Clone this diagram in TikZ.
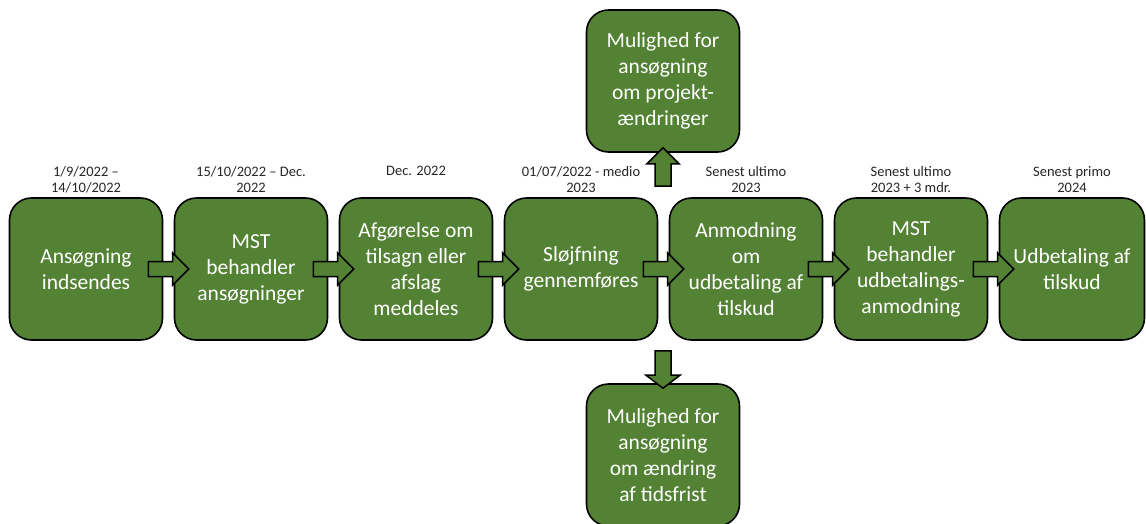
\documentclass[tikz,border=0pt]{standalone}
\usepackage{fontspec}
\setmainfont{Carlito}
\usetikzlibrary{calc}
\definecolor{stepgreen}{RGB}{84,130,53}

% horizontal block arrow from one box to the next
\newcommand\harrow[2]{%
  \filldraw[arrowfill] ($(#1.east)+(-15,7.5)$) -- ($(#2.west)+(-1,7.5)$)
    -- ($(#2.west)+(-1,16)$) -- ($(#2.west)+(15,0)$) -- ($(#2.west)+(-1,-16)$)
    -- ($(#2.west)+(-1,-7.5)$) -- ($(#1.east)+(-15,-7.5)$) -- cycle;}

\begin{document}
\begin{tikzpicture}[x=1pt,y=1pt,
  stepbox/.style={draw=black, line width=1.6pt, fill=stepgreen, rounded corners=22pt,
    minimum width=153pt, minimum height=142pt, text=white, align=center,
    font=\fontsize{21.5}{26}\selectfont, inner sep=2pt},
  datelabel/.style={anchor=north, align=center, text=black!85,
    font=\fontsize{14.5}{16.5}\selectfont, inner sep=0pt},
  arrowfill/.style={draw=black, line width=1.5pt, fill=stepgreen, line join=miter}]
\useasboundingbox (0,0) rectangle (1146,-524);

% Main row of steps
\node[stepbox] (b1) at (86,-269) {Ansøgning\\indsendes};
\node[stepbox] (b2) at (251,-269) {MST\\behandler\\ansøgninger};
\node[stepbox] (b3) at (416,-269) {Afgørelse om\\tilsagn eller\\afslag\\meddeles};
\node[stepbox] (b4) at (581,-269) {Sløjfning\\gennemføres};
\node[stepbox] (b5) at (746,-269) {Anmodning\\om\\udbetaling af\\tilskud};
\node[stepbox] (b6) at (911,-269) {MST\\behandler\\udbetalings-\\anmodning};
\node[stepbox, minimum width=145pt] (b7) at (1072,-269) {Udbetaling af\\tilskud};

% Side steps
\node[stepbox] (top) at (663,-81) {Mulighed for\\ansøgning\\om projekt-\\ændringer};
\node[stepbox] (bot) at (663,-455) {Mulighed for\\ansøgning\\om ændring\\af tidsfrist};

% Dates above the steps
\node[datelabel] (d1) at ($(b1.north)+(0,31)$) {1/9/2022 --\\14/10/2022};
\node[datelabel] (d2) at ($(b2.north)+(0,31)$) {15/10/2022 -- Dec.\\2022};
\node[datelabel] (d3) at ($(b3.north)+(0,31)$) {Dec. 2022};
\node[datelabel] (d4) at ($(b4.north)+(0,31)$) {01/07/2022 - medio\\2023};
\node[datelabel] (d5) at ($(b5.north)+(0,31)$) {Senest ultimo\\2023};
\node[datelabel] (d6) at ($(b6.north)+(0,31)$) {Senest ultimo\\2023 + 3 mdr.};
\node[datelabel] (d7) at ($(b7.north)+(0,31)$) {Senest primo\\2024};

% Arrows between steps
\harrow{b1}{b2}
\harrow{b2}{b3}
\harrow{b3}{b4}
\harrow{b4}{b5}
\harrow{b5}{b6}
\harrow{b6}{b7}

% Arrows to the side steps
\coordinate (upfoot) at ($(top.south |- b4.north)+(0,11)$);
\coordinate (downtop) at ($(bot.north |- b4.south)+(0,-10)$);
\filldraw[arrowfill] ($(upfoot)+(-8,0)$) -- ($(top.south)+(-8,-11)$) -- ($(top.south)+(-16,-11)$)
  -- ($(top.south)+(0,5)$) -- ($(top.south)+(16,-11)$) -- ($(top.south)+(8,-11)$)
  -- ($(upfoot)+(8,0)$) -- cycle;
\filldraw[arrowfill] ($(downtop)+(-8,0)$) -- ($(bot.north)+(-8,8)$) -- ($(bot.north)+(-17,8)$)
  -- ($(bot.north)+(0,-5)$) -- ($(bot.north)+(17,8)$) -- ($(bot.north)+(8,8)$)
  -- ($(downtop)+(8,0)$) -- cycle;
\end{tikzpicture}
\end{document}
